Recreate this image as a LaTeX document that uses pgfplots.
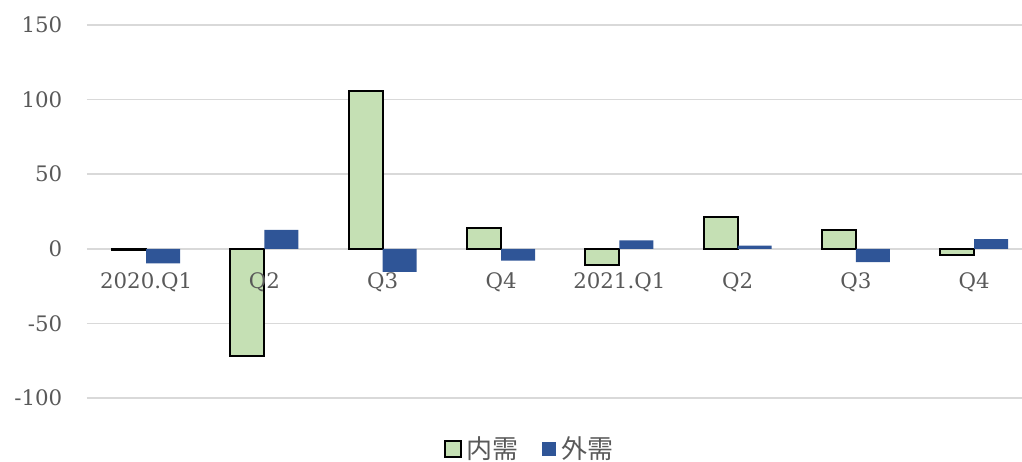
\documentclass[border=0pt]{standalone}
\usepackage{fontspec}
\setmainfont{DejaVu Serif}
\newfontfamily\cjk{Noto Sans CJK JP}
\usepackage{pgfplots}
\pgfplotsset{compat=1.18}
\definecolor{gridc}{HTML}{D9D9D9}
\definecolor{txt}{HTML}{595959}
\definecolor{lgreen}{HTML}{C5E0B4}
\definecolor{dblue}{HTML}{2F5597}
\pgfplotsset{
  common/.style={
    at={(65.25pt,47.25pt)}, anchor=south west,
    scale only axis, width=709.8pt, height=279.75pt,
    xmin=-0.5, xmax=7.5, ymin=-100, ymax=150,
    axis x line=middle, axis y line=left,
    hide obscured y ticks=false, hide obscured x ticks=false,
    major tick length=0pt,
    tick label style={font=\fontsize{16}{19}\selectfont, text=txt},
    /pgf/number format/assume math mode=true,
  }
}
\begin{document}
\begin{tikzpicture}
\path[use as bounding box] (0,0) rectangle (766.5pt,345.75pt);
\begin{axis}[
  common,
  ytick={-100,-50,0,50,100,150},
  xtick=\empty,
  axis line style={-, draw=gridc, line width=1.1pt},
  y axis line style={draw=none},
  ymajorgrids, grid style={gridc, line width=1.1pt},
  yticklabel style={xshift=-15pt},
  ybar, bar width=25.5pt, ybar=0pt,
  legend style={at={(0.468,-0.1367)}, anchor=center, draw=none, fill=none,
    legend columns=2, font=\cjk\fontsize{19.5}{23}\selectfont, text=txt,
    /tikz/every odd column/.append style={column sep=2pt},
    /tikz/every even column/.append style={column sep=15pt}},
]
\addplot[fill=lgreen, draw=black, line width=1.5pt,
  legend image code/.code={\draw[fill=lgreen,draw=black,line width=1.5pt] (0pt,-6pt) rectangle (12pt,6pt);}]
  coordinates {(0,-1) (1,-71.7) (2,105.8) (3,14) (4,-11) (5,21.6) (6,12.7) (7,-4.2)};
\addlegendentry{内需}
\addplot[fill=dblue, draw=none,
  legend image code/.code={\fill[dblue] (0pt,-5.5pt) rectangle (11pt,5.5pt);}]
  coordinates {(0,-9.8) (1,12.7) (2,-15.4) (3,-8) (4,5.6) (5,2.2) (6,-8.9) (7,6.5)};
\addlegendentry{外需}
\end{axis}
\begin{axis}[
  common,
  ytick=\empty,
  xtick={0,...,7},
  xticklabels={2020.Q1,Q2,Q3,Q4,2021.Q1,Q2,Q3,Q4},
  axis line style={draw=none},
  xticklabel style={yshift=-14pt},
]
\end{axis}
\end{tikzpicture}
\end{document}
